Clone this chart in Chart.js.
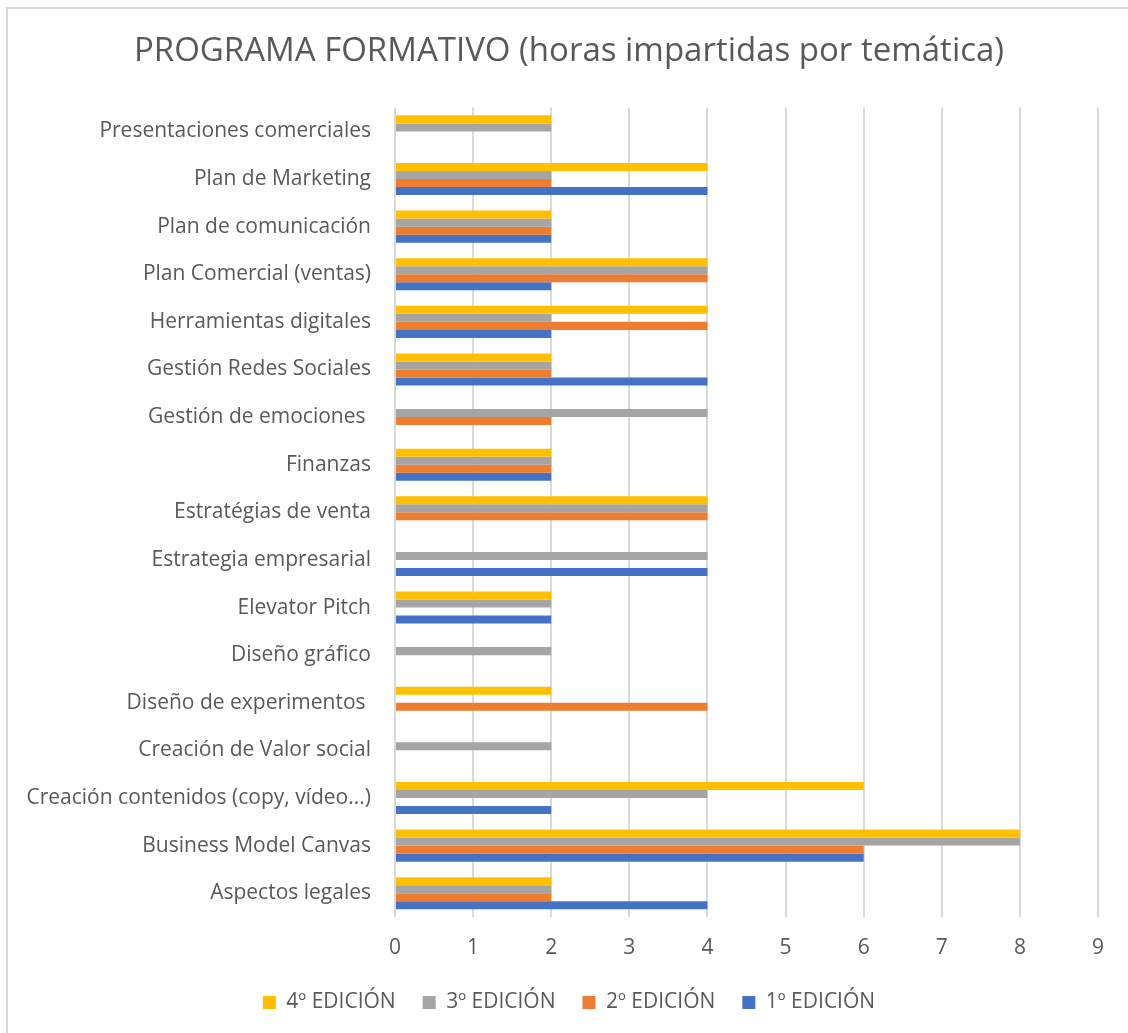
<!DOCTYPE html>
<html>
<head>
<meta charset="utf-8">
<script src="https://cdn.jsdelivr.net/npm/chart.js@4/dist/chart.umd.min.js"></script>
<style>
  body { margin: 0; background: #fff; }
  #frame {
    position: absolute; left: 6px; top: 7px; width: 1200px; height: 1100px;
    border-left: 2px solid #d9d9d9; border-top: 2px solid #d9d9d9;
  }
  #myChart { position: absolute; left: 0; top: 0; }
</style>
</head>
<body>
<div id="frame"></div>
<canvas id="myChart" width="1128" height="1033"></canvas>
<script>
/* data, top to bottom as in the picture */

const categories = [
  'Presentaciones comerciales',
  'Plan de Marketing',
  'Plan de comunicación',
  'Plan Comercial (ventas)',
  'Herramientas digitales',
  'Gestión Redes Sociales',
  'Gestión de emociones ',
  'Finanzas',
  'Estratégias de venta',
  'Estrategia empresarial',
  'Elevator Pitch',
  'Diseño gráfico',
  'Diseño de experimentos ',
  'Creación de Valor social',
  'Creación contenidos (copy, vídeo...)',
  'Business Model Canvas',
  'Aspectos legales'
];

const ed4 = [2, 4, 2, 4, 4, 2, 0, 2, 4, 0, 2, 0, 2, 0, 6, 8, 2];
const ed3 = [2, 2, 2, 4, 2, 2, 4, 2, 4, 4, 2, 2, 0, 2, 4, 8, 2];
const ed2 = [0, 2, 2, 4, 4, 2, 2, 2, 4, 0, 0, 0, 4, 0, 0, 6, 2];
const ed1 = [0, 4, 2, 2, 2, 4, 0, 2, 0, 4, 2, 0, 0, 0, 2, 6, 4];

const xTicks = [0, 1, 2, 3, 4, 5, 6, 7, 8, 9];

const textColor = '#595959';
const fontFamily = '"Open Sans", "Liberation Sans", sans-serif';

const ctx = document.getElementById('myChart').getContext('2d');

const chart = new Chart(ctx, {
  type: 'bar',
  data: {
    labels: categories,
    datasets: [
      { label: '4º EDICIÓN', data: ed4, backgroundColor: '#FFC000' },
      { label: '3º EDICIÓN', data: ed3, backgroundColor: '#A5A5A5' },
      { label: '2º EDICIÓN', data: ed2, backgroundColor: '#ED7D31' },
      { label: '1º EDICIÓN', data: ed1, backgroundColor: '#4472C4' }
    ]
  },
  options: {
    indexAxis: 'y',
    responsive: false,
    animation: false,
    borderWidth: 0,
    categoryPercentage: 0.674,
    barPercentage: 1.0,
    layout: { padding: { left: 10, right: 0, top: 0, bottom: 10 } },
    plugins: {
      title: {
        display: true,
        text: 'PROGRAMA FORMATIVO (horas impartidas por temática)',
        color: textColor,
        font: { family: fontFamily, size: 33, weight: 'normal' },
        padding: { top: 32, bottom: 36 }
      },
      legend: {
        position: 'bottom',
        labels: {
          color: textColor,
          font: { family: fontFamily, size: 21 },
          boxWidth: 13,
          boxHeight: 13,
          padding: 27
        }
      },
      tooltip: { enabled: false }
    },
    scales: {
      x: {
        min: 0,
        max: 9,
        afterBuildTicks: function (scale) {
          scale.ticks = xTicks.map(v => ({ value: v }));
        },
        afterFit: function (scale) { scale.height = 48; },
        grid: { color: '#d9d9d9', lineWidth: 2, drawTicks: false },
        border: { display: false },
        ticks: {
          color: textColor,
          font: { family: fontFamily, size: 21 },
          padding: 18
        }
      },
      y: {
        afterFit: function (scale) { scale.width = 385; },
        grid: { display: false, drawTicks: false },
        border: { display: false },
        ticks: {
          color: textColor,
          font: { family: fontFamily, size: 21 },
          padding: 24,
          autoSkip: false
        }
      },
      // empty axis on the right, only keeps the plot clear of the edge
      yRight: {
        type: 'category',
        position: 'right',
        afterFit: function (scale) { scale.width = 30; },
        grid: { display: false, drawTicks: false },
        border: { display: false },
        ticks: { display: false }
      }
    }
  }
});
</script>
</body>
</html>
